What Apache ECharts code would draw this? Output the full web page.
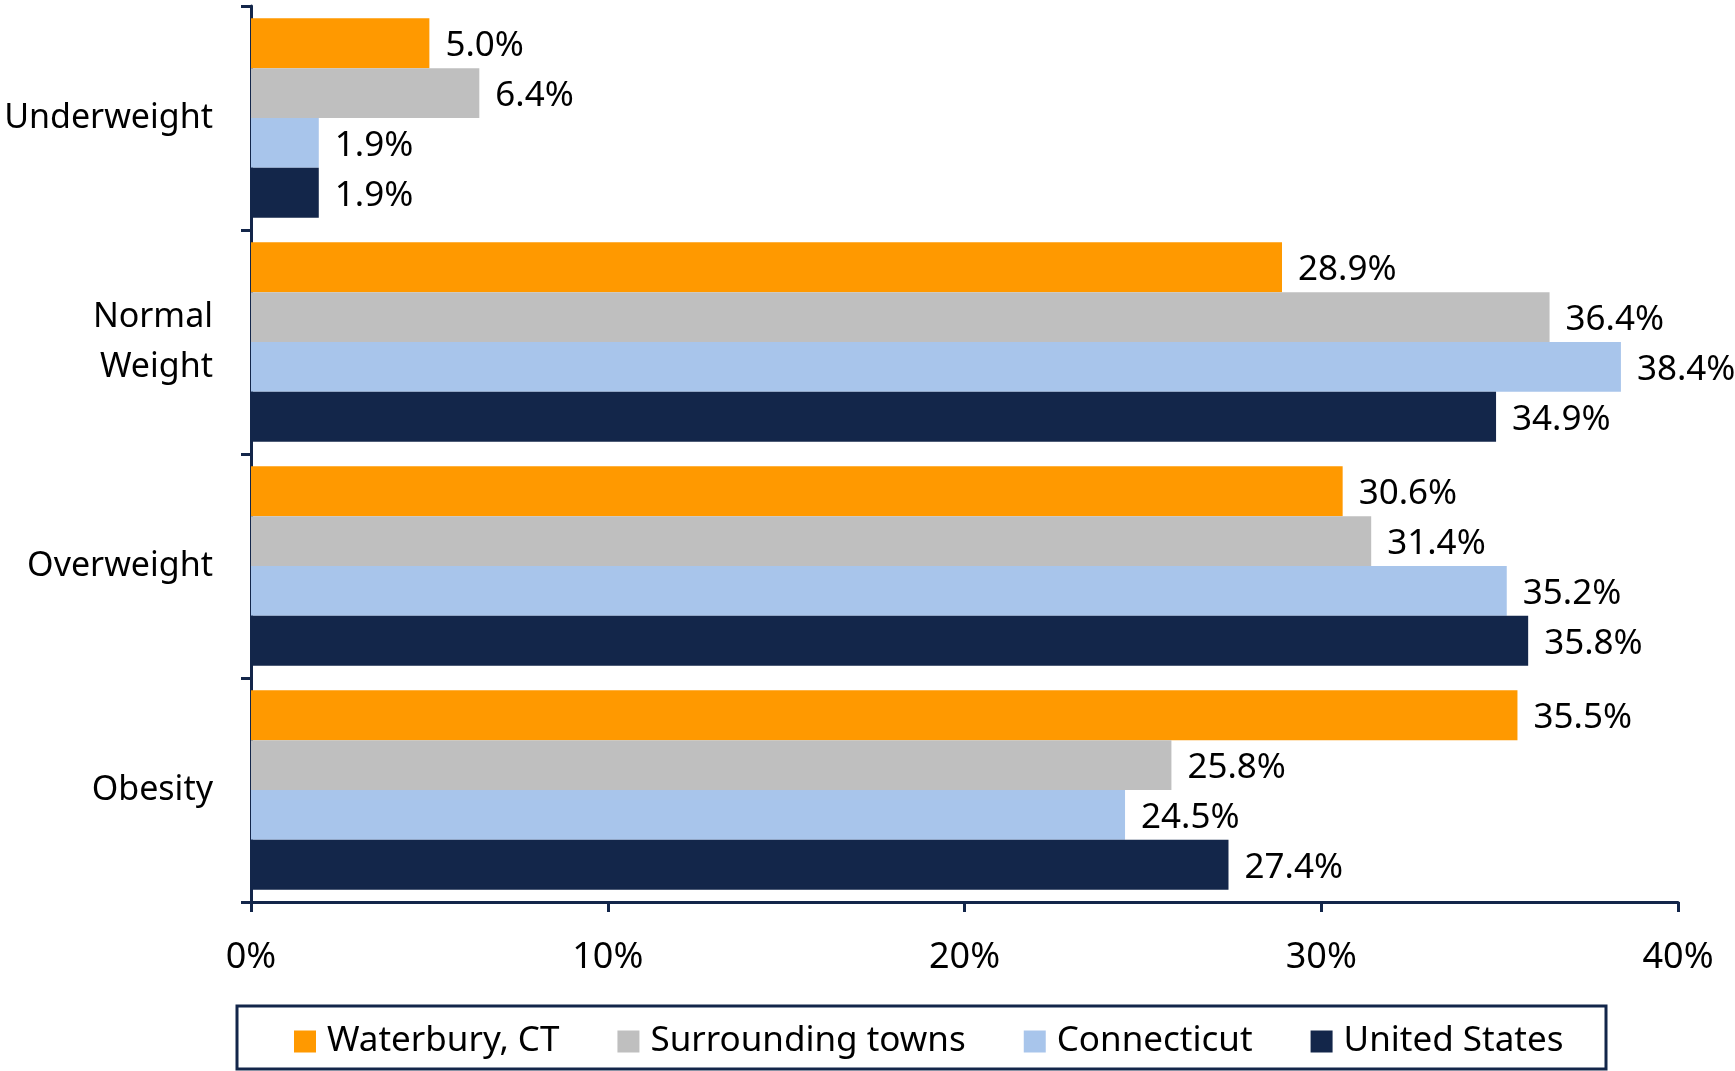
<!DOCTYPE html>
<html>
<head>
<meta charset="utf-8">
<script src="https://cdn.jsdelivr.net/npm/echarts@6/dist/echarts.min.js"></script>
<style>
  html, body { margin: 0; padding: 0; background: #fff; }
  #chart { width: 1735px; height: 1071px; }
</style>
</head>
<body>
<div id="chart"></div>
<script>
// categories and series values (percent)
const categories = ['Underweight', 'Normal\nWeight', 'Overweight', 'Obesity'];
const seriesNames = ['Waterbury, CT', 'Surrounding towns', 'Connecticut', 'United States'];
const waterbury = [5.0, 28.9, 30.6, 35.5];
const surrounding = [6.4, 36.4, 31.4, 25.8];
const connecticut = [1.9, 38.4, 35.2, 24.5];
const unitedStates = [1.9, 34.9, 35.8, 27.4];
const colors = ['#FF9900', '#BFBFBF', '#A8C5EB', '#13264A'];

const font = 'Noto Sans';
const navy = '#13264A';

const myChart = echarts.init(document.getElementById('chart'));

const makeSeries = (name, data, color) => ({
  name: name,
  type: 'bar',
  data: data,
  barGap: '0%',
  barCategoryGap: '11%',
  itemStyle: { color: color },
  label: {
    show: true,
    position: 'right',
    distance: 16,
    offset: [0, 3],
    color: '#000',
    fontFamily: font,
    fontSize: 35,
    formatter: p => p.value.toFixed(1) + '%'
  }
});

const option = {
  backgroundColor: '#fff',
  animation: false,
  grid: { left: 251, right: 57, top: 6, bottom: 169, containLabel: false, outerBoundsMode: 'none' },
  legend: {
    left: 294,
    top: 1024,
    padding: 0,
    itemWidth: 22,
    itemHeight: 22,
    itemGap: 58,
    icon: 'rect',
    textStyle: { fontFamily: font, fontSize: 35, color: '#000', padding: [0, 0, 0, 6] },
    data: seriesNames
  },
  xAxis: {
    type: 'value',
    min: 0,
    max: 40,
    interval: 10,
    splitLine: { show: false },
    axisLine: { show: true, lineStyle: { color: navy, width: 3 } },
    axisTick: { show: true, length: 10, lineStyle: { color: navy, width: 3 } },
    axisLabel: { margin: 38, color: '#000', fontFamily: font, fontSize: 36, formatter: '{value}%' }
  },
  yAxis: {
    type: 'category',
    inverse: true,
    data: categories,
    axisLine: { show: true, lineStyle: { color: navy, width: 3 } },
    axisTick: { show: true, length: 10, lineStyle: { color: navy, width: 3 } },
    axisLabel: { margin: 38, color: '#000', fontFamily: font, fontSize: 34, lineHeight: 50, align: 'right' }
  },
  graphic: [
    {
      type: 'rect',
      shape: { x: 237, y: 1006, width: 1369, height: 63 },
      style: { fill: 'none', stroke: navy, lineWidth: 3 },
      silent: true
    }
  ],
  series: [
    makeSeries(seriesNames[0], waterbury, colors[0]),
    makeSeries(seriesNames[1], surrounding, colors[1]),
    makeSeries(seriesNames[2], connecticut, colors[2]),
    makeSeries(seriesNames[3], unitedStates, colors[3])
  ]
};

myChart.setOption(option);
</script>
</body>
</html>
